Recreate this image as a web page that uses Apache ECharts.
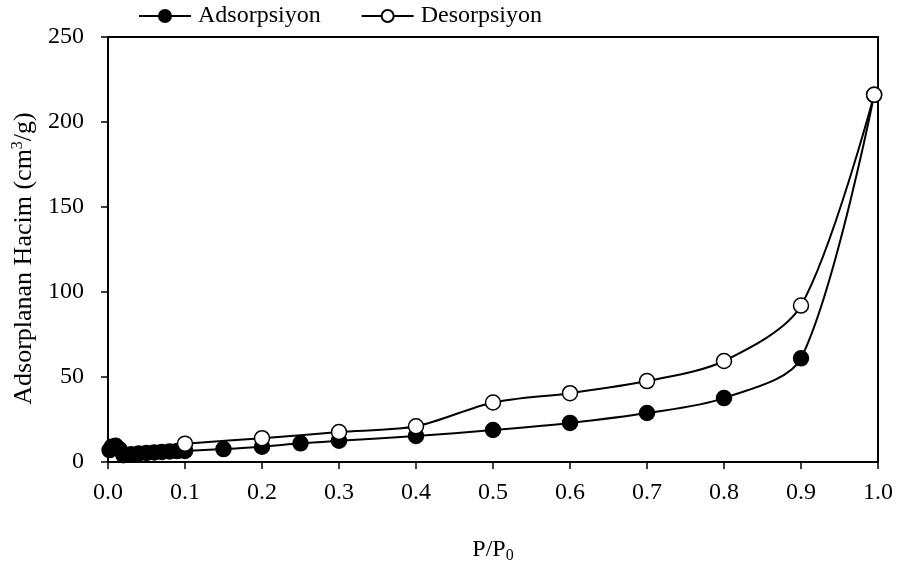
<!DOCTYPE html>
<html>
<head>
<meta charset="utf-8">
<script src="https://cdn.jsdelivr.net/npm/echarts@6/dist/echarts.min.js"></script>
<style>
  html, body { margin: 0; padding: 0; background: #fff; }
  #chart { width: 899px; height: 565px; }
</style>
</head>
<body>
<div id="chart"></div>
<script>
// P/P0 and adsorbed volume (cm3/g)
var adsP = [0.002, 0.005, 0.01, 0.015, 0.02, 0.03, 0.04, 0.05, 0.06, 0.07, 0.08, 0.09, 0.1, 0.15, 0.2, 0.25, 0.3, 0.4, 0.5, 0.6, 0.7, 0.8, 0.9, 0.995];
var adsV = [7, 9, 9.5, 7.5, 4, 4.5, 5, 5.3, 5.6, 5.9, 6.2, 6.4, 6.5, 7.6, 9, 11, 12.5, 15.3, 18.8, 23, 28.8, 37.6, 61, 216];
var desP = [0.995, 0.9, 0.8, 0.7, 0.6, 0.5, 0.4, 0.3, 0.2, 0.1];
var desV = [216, 92, 59.4, 47.6, 40.5, 35, 21, 17.6, 14, 10.8];

var seriesNames = ['Adsorpsiyon', 'Desorpsiyon'];

function pairs(xs, ys) {
    var out = [];
    for (var i = 0; i < xs.length; i++) out.push([xs[i], ys[i]]);
    return out;
}

var font = 'Liberation Serif';
var chart = echarts.init(document.getElementById('chart'), null, { renderer: 'canvas' });

var option = {
    backgroundColor: '#fff',
    animation: false,
    textStyle: { fontFamily: font, color: '#000' },
    legend: {
        top: -1,
        left: 133,
        itemWidth: 52,
        itemHeight: 15,
        itemGap: 40,
        textStyle: { fontFamily: font, fontSize: 24, color: '#000', padding: [0, 0, 0, 2] },
        data: seriesNames
    },
    grid: {
        left: 108, right: 21, top: 37, bottom: 103,
        show: true, borderColor: '#000', borderWidth: 2,
        containLabel: false,
        outerBoundsMode: 'none'
    },
    xAxis: {
        type: 'value', min: 0, max: 1, interval: 0.1,
        name: 'P/P{sub|0}',
        nameLocation: 'middle', nameGap: 74,
        nameTextStyle: {
            fontFamily: font, fontSize: 24, color: '#000',
            rich: { sub: { fontFamily: font, fontSize: 16, verticalAlign: 'bottom', padding: [12, 0, 0, 0] } }
        },
        axisLine: { lineStyle: { color: '#000', width: 2 } },
        axisTick: { show: true, inside: false, length: 7, lineStyle: { color: '#000', width: 1.5 } },
        axisLabel: {
            fontFamily: font, fontSize: 24, color: '#000', margin: 19,
            formatter: function (v) { return v.toFixed(1); }
        },
        splitLine: { show: false }
    },
    yAxis: {
        type: 'value', min: 0, max: 250, interval: 50,
        name: 'Adsorplanan Hacim (cm{sup|3}/g)',
        nameLocation: 'middle', nameGap: 70, nameRotate: 90,
        nameTextStyle: {
            fontFamily: font, fontSize: 26, color: '#000', padding: [0, 18, 0, 0],
            rich: { sup: { fontFamily: font, fontSize: 16, verticalAlign: 'top', padding: [0, 0, 12, 0] } }
        },
        axisLine: { show: true, lineStyle: { color: '#000', width: 2 } },
        axisTick: { show: true, inside: false, length: 7, lineStyle: { color: '#000', width: 1.5 } },
        axisLabel: { fontFamily: font, fontSize: 24, color: '#000', margin: 24 },
        splitLine: { show: false }
    },
    series: [{
        name: seriesNames[0],
        type: 'line',
        smooth: 0.3,
        symbol: 'circle',
        symbolSize: 15,
        itemStyle: { color: '#000', borderColor: '#000', borderWidth: 1.5 },
        lineStyle: { color: '#000', width: 2 },
        data: pairs(adsP, adsV)
    }, {
        name: seriesNames[1],
        type: 'line',
        smooth: 0.3,
        symbol: 'circle',
        symbolSize: 15,
        itemStyle: { color: '#fff', borderColor: '#000', borderWidth: 1.5 },
        lineStyle: { color: '#000', width: 2 },
        data: pairs(desP, desV)
    }]
};

chart.setOption(option);
</script>
</body>
</html>
